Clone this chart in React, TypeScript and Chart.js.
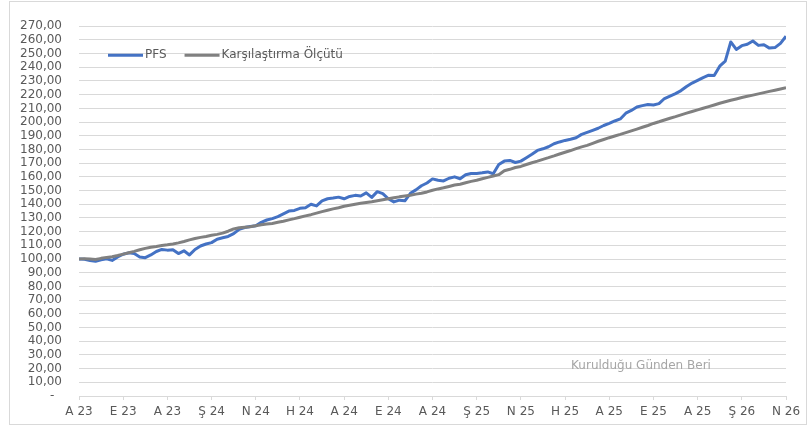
import React, { useEffect, useRef } from "react";
import { Chart, registerables } from "chart.js";

Chart.register(...registerables);

const xLabels = ["A 23", "E 23", "A 23", "Ş 24", "N 24", "H 24", "A 24", "E 24", "A 24", "Ş 25", "N 25", "H 25", "A 25", "E 25", "A 25", "Ş 26", "N 26"];
const pointsPerLabel = 8;

const seriesNames = ["PFS", "Karşılaştırma Ölçütü"];

const pfs = [
  100.0, 99.8, 99.0, 98.4, 99.5, 100.2, 99.0, 101.5, 103.5, 104.5,
  104.0, 101.5, 101.0, 103.0, 105.5, 107.0, 106.5, 106.8, 104.0, 106.0,
  103.0, 107.0, 109.5, 111.0, 112.0, 114.5, 115.5, 116.5, 118.5, 121.7,
  123.0, 123.8, 124.3, 126.8, 128.5, 129.5, 131.0, 133.0, 135.0, 135.5,
  137.0, 137.5, 140.0, 138.8, 142.5, 144.0, 144.5, 145.2, 144.0, 145.7,
  146.5, 146.0, 148.3, 145.0, 149.2, 147.8, 144.0, 141.7, 143.0, 142.5,
  148.0, 150.5, 153.5, 155.5, 158.5, 157.5, 157.0, 159.0, 160.0, 158.6,
  161.5, 162.5, 162.5, 163.0, 163.6, 162.3, 169.0, 171.5, 172.0, 170.5,
  171.5, 174.0, 176.5, 179.3, 180.5, 182.0, 184.2, 185.5, 186.6, 187.5,
  188.6, 191.0, 192.5, 194.0, 195.5, 197.5, 199.0, 200.8, 202.3, 206.5,
  208.5, 211.0, 212.0, 212.8, 212.5, 213.5, 217.2, 219.0, 220.8, 223.0,
  226.0, 228.5, 230.5, 232.5, 234.2, 234.0, 240.8, 244.5, 258.5, 253.0,
  255.8, 256.8, 259.2, 256.0, 256.5, 254.0, 254.4, 257.5, 262.7,
];

const benchmark = [
  100.0, 100.3, 100.0, 99.7, 100.5, 101.2, 101.7, 102.6, 103.6, 104.6,
  105.6, 106.8, 107.8, 108.6, 109.2, 109.9, 110.4, 111.0, 111.8, 112.8,
  114.0, 115.0, 115.8, 116.5, 117.3, 118.0, 118.9, 120.3, 122.0, 122.8,
  123.2, 123.6, 124.3, 125.0, 125.5, 126.0, 126.8, 127.6, 128.6, 129.5,
  130.5, 131.5, 132.4, 133.5, 134.6, 135.6, 136.6, 137.5, 138.5, 139.3,
  140.0, 140.7, 141.3, 141.9, 142.6, 143.3, 144.0, 144.7, 145.4, 146.0,
  146.6, 147.4, 148.0, 149.0, 150.2, 151.2, 152.0, 153.0, 154.0, 154.6,
  155.7, 156.7, 157.5, 158.6, 159.6, 160.6, 161.6, 164.5, 165.5, 166.8,
  167.6, 169.0, 170.3, 171.5, 172.8, 174.0, 175.3, 176.7, 178.0, 179.2,
  180.6, 181.9, 183.0, 184.5, 186.0, 187.3, 188.6, 189.8, 191.0, 192.3,
  193.6, 194.9, 196.2, 197.5, 199.0, 200.2, 201.5, 202.8, 204.0, 205.3,
  206.5, 207.7, 208.9, 210.1, 211.3, 212.5, 213.7, 214.8, 215.9, 216.9,
  217.9, 218.8, 219.7, 220.6, 221.5, 222.4, 223.3, 224.2, 225.0,
];

const yMin = 0;
const yMax = 270;
const yStep = 10;
const watermark = "Kurulduğu Günden Beri";

const FONT = '"DejaVu Sans", sans-serif';
const TEXT_COLOR = "#595959";
const GRID_COLOR = "#d9d9d9";
const COLORS = ["#4472C4", "#808080"];

export default function App() {
  const ref = useRef<HTMLCanvasElement>(null);

  useEffect(() => {
    const overlay = {
      id: "overlay",
      afterDraw(chart: any) {
        const ctx = chart.ctx;
        const area = chart.chartArea;
        ctx.save();
        ctx.font = `12px ${FONT}`;
        ctx.textBaseline = "middle";
        // legend
        let x = area.left + 29;
        const y = area.top + 29;
        seriesNames.forEach((name, i) => {
          ctx.strokeStyle = COLORS[i];
          ctx.lineWidth = 3;
          ctx.beginPath();
          ctx.moveTo(x, y);
          ctx.lineTo(x + 35, y);
          ctx.stroke();
          ctx.fillStyle = TEXT_COLOR;
          ctx.textAlign = "left";
          ctx.fillText(name, x + 37, y);
          x += 37 + ctx.measureText(name).width + 18;
        });
        // watermark
        ctx.fillStyle = "#a6a6a6";
        ctx.textAlign = "center";
        ctx.fillText(watermark, area.right - 145, area.bottom - 30);
        ctx.restore();
      },
    };

    const chart = new Chart(ref.current!, {
      type: "line",
      data: {
        datasets: [
          {
            label: seriesNames[0],
            data: pfs.map((v, i) => ({ x: i, y: v })),
            borderColor: COLORS[0],
            backgroundColor: COLORS[0],
            borderWidth: 3,
            pointRadius: 0,
            tension: 0,
            borderJoinStyle: "round",
            order: 1,
          },
          {
            label: seriesNames[1],
            data: benchmark.map((v, i) => ({ x: i, y: v })),
            borderColor: COLORS[1],
            backgroundColor: COLORS[1],
            borderWidth: 3,
            pointRadius: 0,
            tension: 0,
            borderJoinStyle: "round",
            order: 0,
          },
        ],
      },
      options: {
        animation: false,
        responsive: false,
        layout: { padding: { top: 11, right: 20, left: 0, bottom: 0 } },
        plugins: { legend: { display: false }, tooltip: { enabled: false } },
        scales: {
          x: {
            type: "linear",
            min: 0,
            max: (xLabels.length - 1) * pointsPerLabel,
            ticks: {
              stepSize: pointsPerLabel,
              autoSkip: false,
              maxRotation: 0,
              padding: 5,
              color: TEXT_COLOR,
              font: { family: FONT, size: 12 },
              callback: (v: any) => xLabels[Math.round(Number(v) / pointsPerLabel)] ?? "",
            },
            grid: { drawOnChartArea: false, drawTicks: true, tickLength: 4, color: GRID_COLOR },
            border: { color: GRID_COLOR },
            afterFit: (s: any) => {
              s.height = 28;
            },
          },
          y: {
            min: yMin,
            max: yMax,
            ticks: {
              stepSize: yStep,
              autoSkip: false,
              padding: 17,
              color: TEXT_COLOR,
              font: { family: FONT, size: 12 },
              callback: (v: any) => (Number(v) === 0 ? "-  " : Number(v).toFixed(2).replace(".", ",")),
            },
            grid: { color: GRID_COLOR, drawTicks: false },
            border: { display: false },
            afterFit: (s: any) => {
              s.width = 69;
            },
          },
        },
      },
      plugins: [overlay],
    } as any);

    return () => chart.destroy();
  }, []);

  return (
    <div
      style={{
        position: "absolute",
        left: 9,
        top: 1,
        width: 796,
        height: 422,
        border: `1px solid ${GRID_COLOR}`,
        background: "#fff",
      }}
    >
      <canvas ref={ref} width={796} height={422} style={{ display: "block" }} />
    </div>
  );
}
